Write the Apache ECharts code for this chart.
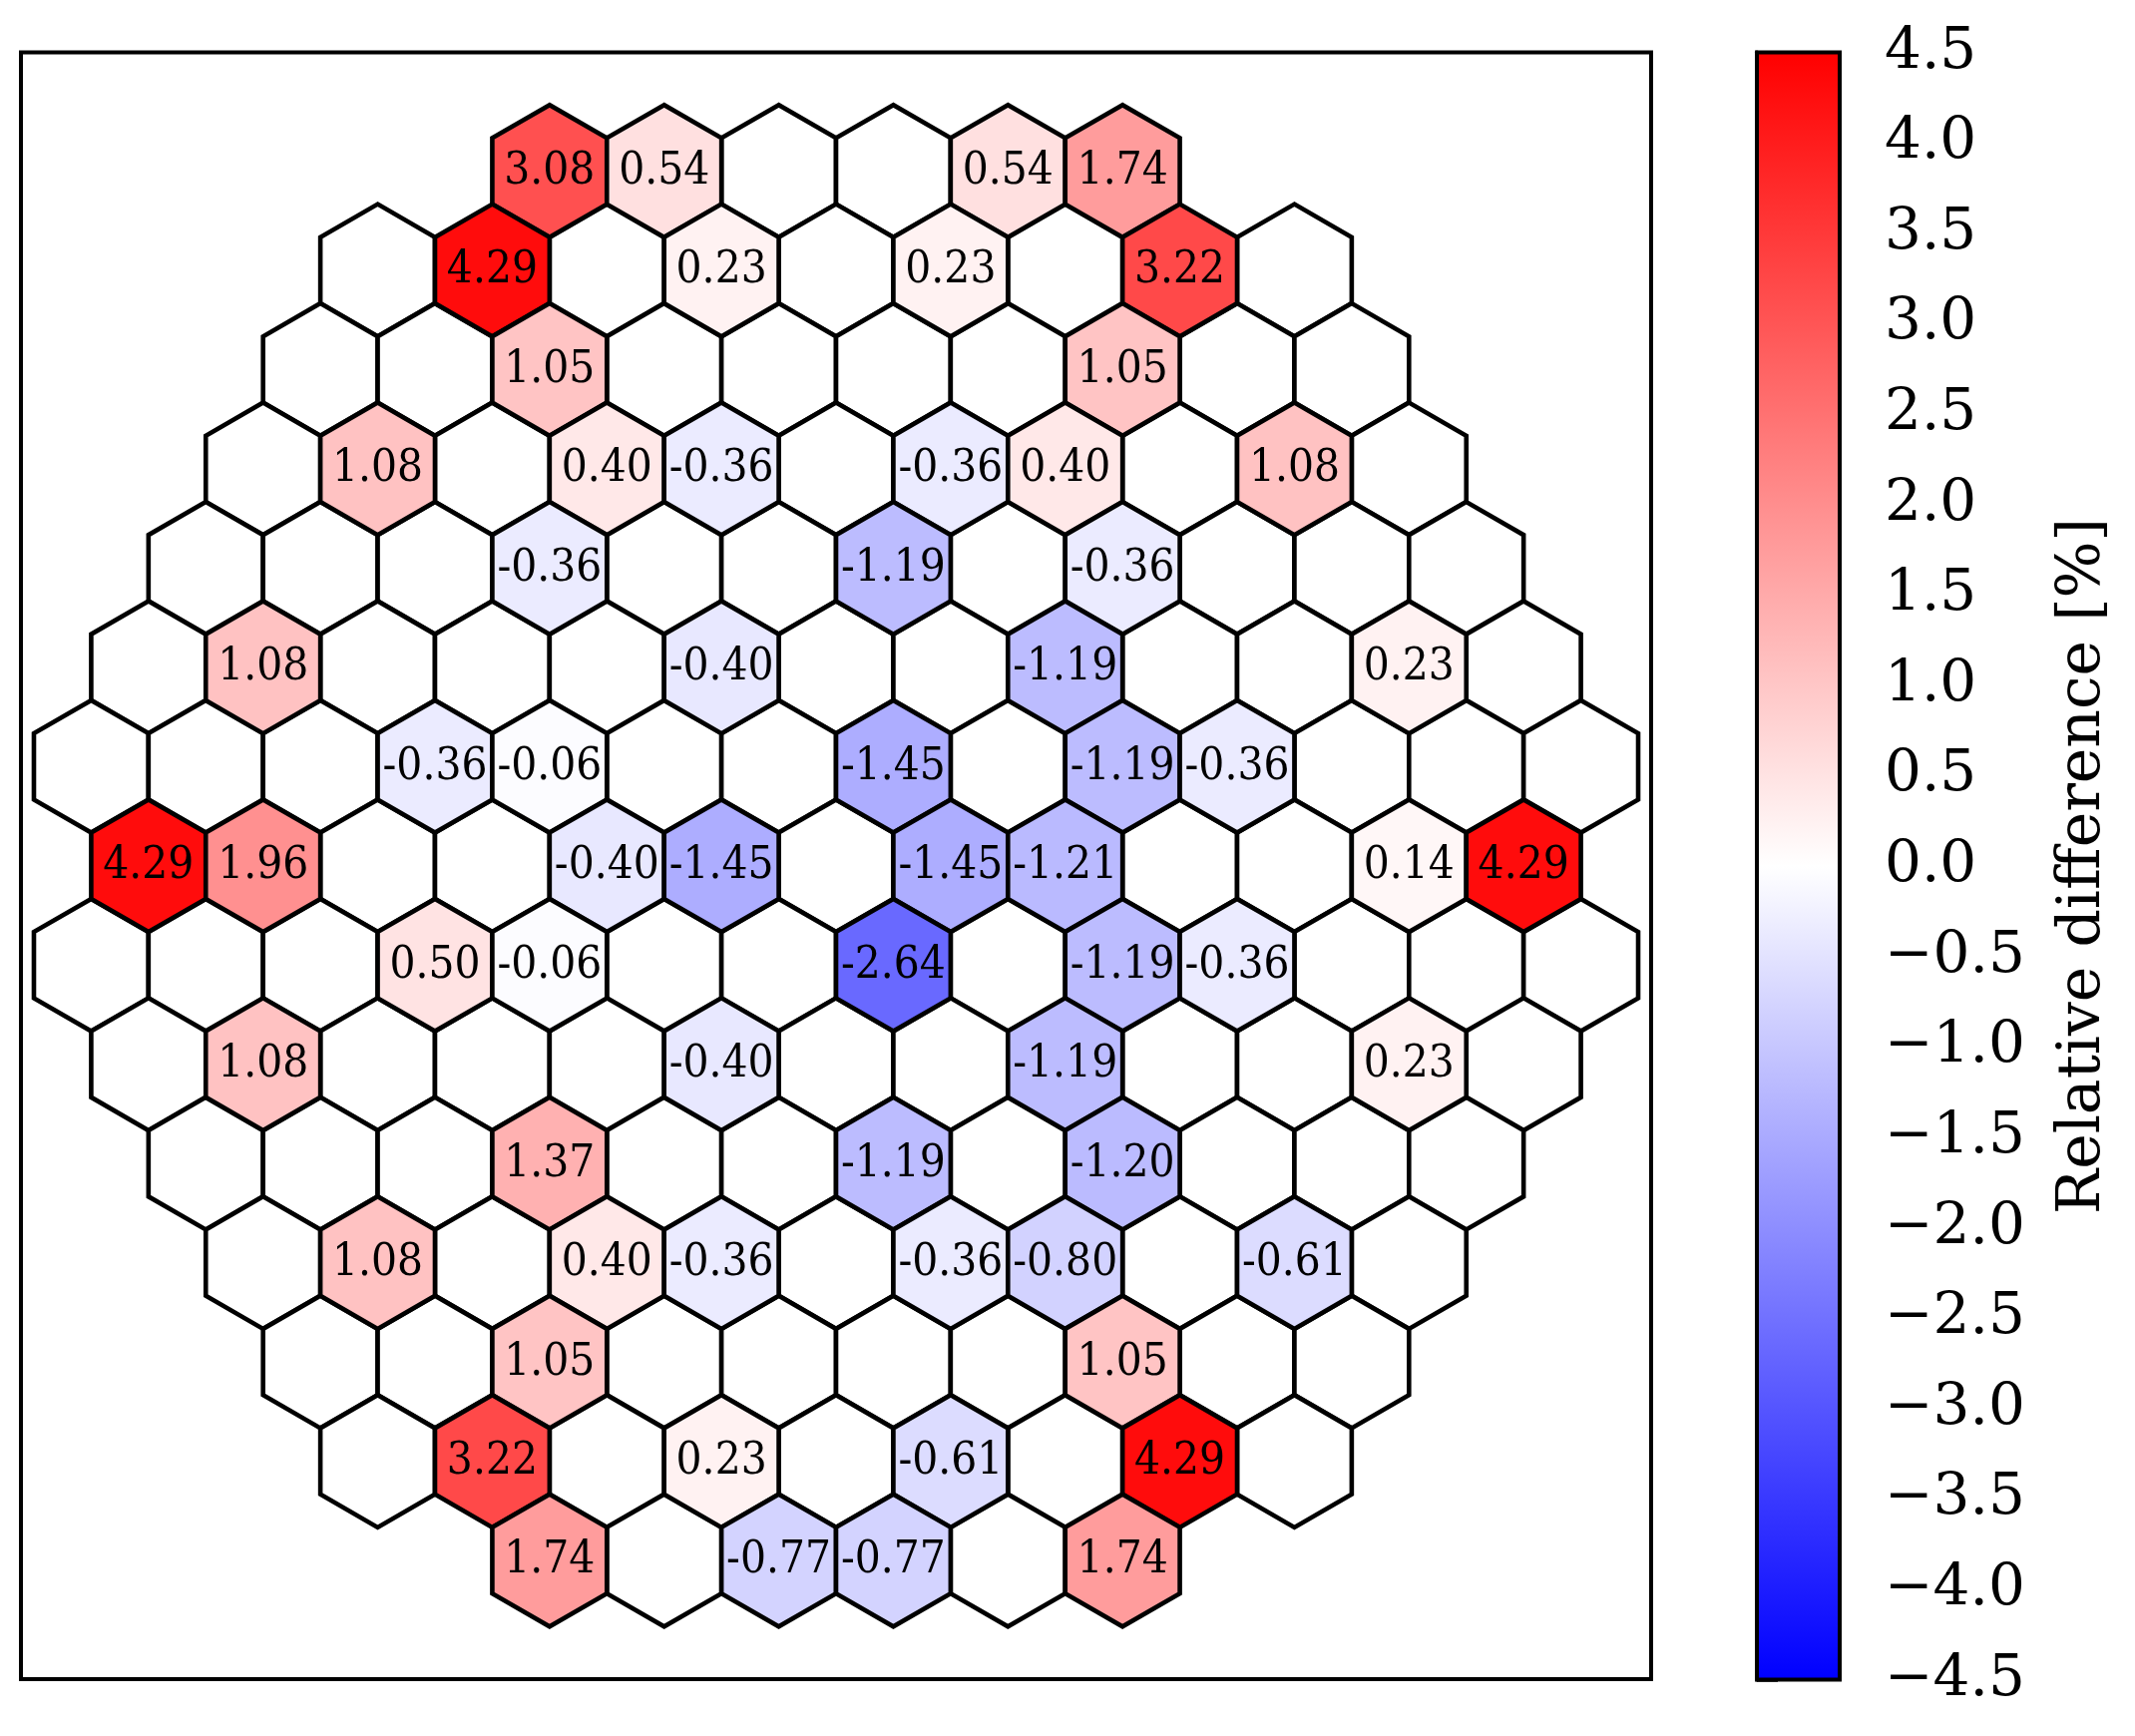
<!DOCTYPE html>
<html>
<head>
<meta charset="utf-8">
<title>Relative difference map</title>
<script src="https://cdn.jsdelivr.net/npm/echarts@6.0.0/dist/echarts.min.js"></script>
<style>
  html, body { margin: 0; padding: 0; background: #fff; }
  #chart { width: 2140px; height: 1740px; }
</style>
</head>
<body>
<div id="chart"></div>
<script>
// first half-column index of every row (lattice, top row first)
const rowFirstCol = [8, 5, 4, 3, 2, 1, 0, 1, 0, 1, 2, 3, 4, 5, 8];
// cell values per row, left to right; null = empty cell
const rowValues = [
  [3.08, 0.54, null, null, 0.54, 1.74],
  [null, 4.29, null, 0.23, null, 0.23, null, 3.22, null],
  [null, null, 1.05, null, null, null, null, 1.05, null, null],
  [null, 1.08, null, 0.40, -0.36, null, -0.36, 0.40, null, 1.08, null],
  [null, null, null, -0.36, null, null, -1.19, null, -0.36, null, null, null],
  [null, 1.08, null, null, null, -0.40, null, null, -1.19, null, null, 0.23, null],
  [null, null, null, -0.36, -0.06, null, null, -1.45, null, -1.19, -0.36, null, null, null],
  [4.29, 1.96, null, null, -0.40, -1.45, null, -1.45, -1.21, null, null, 0.14, 4.29],
  [null, null, null, 0.50, -0.06, null, null, -2.64, null, -1.19, -0.36, null, null, null],
  [null, 1.08, null, null, null, -0.40, null, null, -1.19, null, null, 0.23, null],
  [null, null, null, 1.37, null, null, -1.19, null, -1.20, null, null, null],
  [null, 1.08, null, 0.40, -0.36, null, -0.36, -0.80, null, -0.61, null],
  [null, null, 1.05, null, null, null, null, 1.05, null, null],
  [null, 3.22, null, 0.23, null, -0.61, null, 4.29, null],
  [1.74, null, -0.77, -0.77, null, 1.74]
];
// colour scale
const colorRange = [-4.5, 4.5];
const colorStops = ['#0000ff', '#ffffff', '#ff0000'];
const colorbarTitle = 'Relative difference [%]';

const SERIF = 'DejaVu Serif';
const HEX_R = 1 / Math.sqrt(3);      // circumradius, centre spacing = 1
const ROW_H = Math.sqrt(3) / 2;
const EDGE_W = 4.6;

// build hex centres from the lattice
const filledCells = [];
const emptyCells = [];
rowValues.forEach((row, r) => {
  row.forEach((v, i) => {
    const k = rowFirstCol[r] + 2 * i;
    const x = (k - 13) / 2;
    const y = (7 - r) * ROW_H;
    if (v === null) emptyCells.push([x, y]);
    else filledCells.push([x, y, v]);
  });
});

function hexPoints(api) {
  const cx = api.value(0), cy = api.value(1);
  const pts = [];
  for (let i = 0; i < 6; i++) {
    const a = Math.PI / 2 + i * Math.PI / 3;
    pts.push(api.coord([cx + HEX_R * Math.cos(a), cy + HEX_R * Math.sin(a)]));
  }
  return pts;
}

function renderFilled(params, api) {
  const c = api.coord([api.value(0), api.value(1)]);
  return {
    type: 'group',
    children: [
      {
        type: 'polygon',
        shape: { points: hexPoints(api) },
        style: { fill: api.visual('color'), stroke: '#000', lineWidth: EDGE_W, lineJoin: 'miter' }
      },
      {
        type: 'text',
        x: c[0], y: c[1] + 1, z2: 10, scaleX: 0.93,
        style: {
          text: api.value(2).toFixed(2),
          fontSize: 44, fontFamily: SERIF, fill: '#000',
          align: 'center', verticalAlign: 'middle'
        }
      }
    ]
  };
}

function renderEmpty(params, api) {
  return {
    type: 'polygon',
    shape: { points: hexPoints(api) },
    style: { fill: '#fff', stroke: '#000', lineWidth: EDGE_W, lineJoin: 'miter' }
  };
}

function renderColorbar(params, api) {
  const p0 = api.coord([0, api.value(1)]);
  const p1 = api.coord([1, api.value(0)]);
  return {
    type: 'rect',
    shape: { x: p0[0], y: p0[1], width: p1[0] - p0[0], height: p1[1] - p0[1] },
    style: {
      fill: new echarts.graphic.LinearGradient(0, 0, 0, 1, [
        { offset: 0, color: colorStops[2] },
        { offset: 0.5, color: colorStops[1] },
        { offset: 1, color: colorStops[0] }
      ])
    }
  };
}

const chart = echarts.init(document.getElementById('chart'), null, { renderer: 'canvas' });

const option = {
  backgroundColor: '#fff',
  animation: false,
  grid: [
    { left: 21, top: 52.5, width: 1634, height: 1630.5, show: true, borderColor: '#000', borderWidth: 4, z: 5 },
    { left: 1761, top: 52.5, width: 83, height: 1631, show: true, borderColor: '#000', borderWidth: 4, z: 5 }
  ],
  xAxis: [
    { gridIndex: 0, type: 'value', min: -7.113, max: 7.113, show: false },
    { gridIndex: 1, type: 'value', min: 0, max: 1, show: false }
  ],
  yAxis: [
    { gridIndex: 0, type: 'value', min: -7.098, max: 7.098, show: false },
    {
      gridIndex: 1, type: 'value', position: 'right',
      min: colorRange[0], max: colorRange[1], interval: 0.5,
      axisLine: { show: true, lineStyle: { color: '#000', width: 4 } },
      axisTick: { show: true, length: 21, lineStyle: { color: '#000', width: 3.5 } },
      splitLine: { show: false },
      axisLabel: {
        margin: 45, fontSize: 58, fontFamily: SERIF, color: '#000',
        formatter: v => v.toFixed(1).replace('-', '\u2212')
      },
      name: colorbarTitle, nameLocation: 'middle', nameRotate: 90, nameGap: 214,
      nameTextStyle: { fontSize: 60, fontFamily: SERIF, color: '#000' }
    }
  ],
  visualMap: {
    show: false, type: 'continuous',
    min: colorRange[0], max: colorRange[1],
    dimension: 2, seriesIndex: 1,
    inRange: { color: colorStops }
  },
  series: [
    {
      type: 'custom', xAxisIndex: 0, yAxisIndex: 0,
      renderItem: renderEmpty, data: emptyCells, silent: true
    },
    {
      type: 'custom', xAxisIndex: 0, yAxisIndex: 0,
      renderItem: renderFilled, data: filledCells, silent: true
    },
    {
      type: 'custom', xAxisIndex: 1, yAxisIndex: 1,
      renderItem: renderColorbar, data: [colorRange], silent: true,
      encode: { y: [0, 1] }
    }
  ]
};

chart.setOption(option);
</script>
</body>
</html>
